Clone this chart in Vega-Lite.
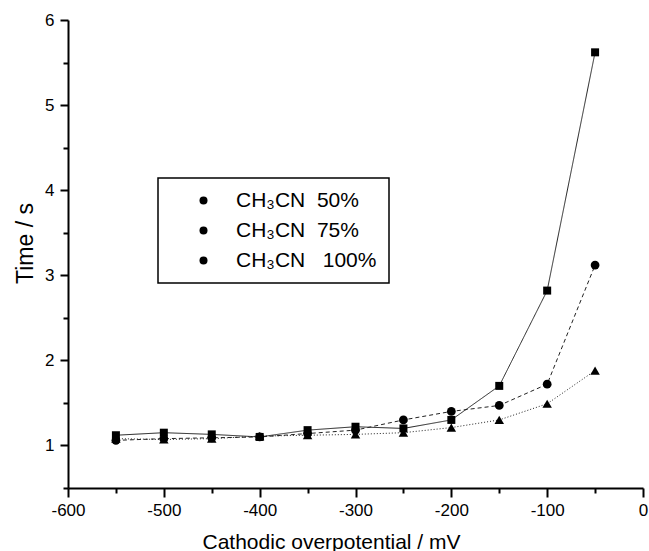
{
  "$schema": "https://vega.github.io/schema/vega-lite/v6.json",
  "width": 575,
  "height": 468,
  "autosize": {"type": "none"},
  "padding": {"left": 68, "top": 20, "right": 6, "bottom": 63},
  "background": "white",
  "config": {
    "view": {"stroke": null},
    "font": "Liberation Sans",
    "axis": {
      "domainColor": "black", "domainWidth": 2,
      "tickColor": "black", "tickWidth": 2,
      "labelColor": "black", "labelFont": "Liberation Sans", "labelFontSize": 17,
      "titleColor": "black", "titleFont": "Liberation Sans", "titleFontWeight": "normal",
      "grid": false, "labelOverlap": false, "labelFlush": false
    },
    "legend": {
      "orient": "none", "legendX": 90, "legendY": 158, "direction": "vertical",
      "strokeColor": "black", "strokeWidth": 1.5, "fillColor": "white", "padding": 12,
      "labelFont": "Liberation Sans", "labelFontSize": 21, "labelColor": "black", "labelLimit": 400,
      "symbolSize": 64, "symbolOffset": 23, "labelOffset": 22, "rowPadding": 8
    }
  },
  "data": {
    "values": [
      {"mV": -550, "t": 1.12, "series": "CH₃CN\u00a0\u00a050%"},
      {"mV": -500, "t": 1.15, "series": "CH₃CN\u00a0\u00a050%"},
      {"mV": -450, "t": 1.13, "series": "CH₃CN\u00a0\u00a050%"},
      {"mV": -400, "t": 1.10, "series": "CH₃CN\u00a0\u00a050%"},
      {"mV": -350, "t": 1.18, "series": "CH₃CN\u00a0\u00a050%"},
      {"mV": -300, "t": 1.22, "series": "CH₃CN\u00a0\u00a050%"},
      {"mV": -250, "t": 1.20, "series": "CH₃CN\u00a0\u00a050%"},
      {"mV": -200, "t": 1.30, "series": "CH₃CN\u00a0\u00a050%"},
      {"mV": -150, "t": 1.70, "series": "CH₃CN\u00a0\u00a050%"},
      {"mV": -100, "t": 2.82, "series": "CH₃CN\u00a0\u00a050%"},
      {"mV": -50, "t": 5.62, "series": "CH₃CN\u00a0\u00a050%"},
      {"mV": -550, "t": 1.06, "series": "CH₃CN\u00a0\u00a075%"},
      {"mV": -500, "t": 1.08, "series": "CH₃CN\u00a0\u00a075%"},
      {"mV": -450, "t": 1.09, "series": "CH₃CN\u00a0\u00a075%"},
      {"mV": -400, "t": 1.10, "series": "CH₃CN\u00a0\u00a075%"},
      {"mV": -350, "t": 1.14, "series": "CH₃CN\u00a0\u00a075%"},
      {"mV": -300, "t": 1.18, "series": "CH₃CN\u00a0\u00a075%"},
      {"mV": -250, "t": 1.30, "series": "CH₃CN\u00a0\u00a075%"},
      {"mV": -200, "t": 1.40, "series": "CH₃CN\u00a0\u00a075%"},
      {"mV": -150, "t": 1.47, "series": "CH₃CN\u00a0\u00a075%"},
      {"mV": -100, "t": 1.72, "series": "CH₃CN\u00a0\u00a075%"},
      {"mV": -50, "t": 3.12, "series": "CH₃CN\u00a0\u00a075%"},
      {"mV": -550, "t": 1.08, "series": "CH₃CN\u00a0\u00a0\u00a0100%"},
      {"mV": -500, "t": 1.07, "series": "CH₃CN\u00a0\u00a0\u00a0100%"},
      {"mV": -450, "t": 1.08, "series": "CH₃CN\u00a0\u00a0\u00a0100%"},
      {"mV": -400, "t": 1.11, "series": "CH₃CN\u00a0\u00a0\u00a0100%"},
      {"mV": -350, "t": 1.12, "series": "CH₃CN\u00a0\u00a0\u00a0100%"},
      {"mV": -300, "t": 1.13, "series": "CH₃CN\u00a0\u00a0\u00a0100%"},
      {"mV": -250, "t": 1.15, "series": "CH₃CN\u00a0\u00a0\u00a0100%"},
      {"mV": -200, "t": 1.21, "series": "CH₃CN\u00a0\u00a0\u00a0100%"},
      {"mV": -150, "t": 1.30, "series": "CH₃CN\u00a0\u00a0\u00a0100%"},
      {"mV": -100, "t": 1.49, "series": "CH₃CN\u00a0\u00a0\u00a0100%"},
      {"mV": -50, "t": 1.88, "series": "CH₃CN\u00a0\u00a0\u00a0100%"}
    ]
  },
  "encoding": {
    "x": {
      "field": "mV", "type": "quantitative",
      "scale": {"domain": [-600, 0], "nice": false, "zero": false},
      "axis": {
        "title": "Cathodic overpotential / mV",
        "values": [-600, -550, -500, -450, -400, -350, -300, -250, -200, -150, -100, -50, 0],
        "labelExpr": "datum.value % 100 === 0 ? '' + datum.value : ''",
        "tickSize": {"condition": {"test": "datum.value % 100 === 0", "value": 9}, "value": 5},
        "labelPadding": 5,
        "titleFontSize": 21,
        "titleX": 263, "titleY": 60, "titleBaseline": "alphabetic", "titleAlign": "center"
      }
    },
    "y": {
      "field": "t", "type": "quantitative",
      "scale": {"domain": [0.5, 6], "nice": false, "zero": false},
      "axis": {
        "title": "Time / s",
        "values": [0.5, 1, 1.5, 2, 2.5, 3, 3.5, 4, 4.5, 5, 5.5, 6],
        "labelExpr": "datum.value % 1 === 0 ? '' + datum.value : ''",
        "tickSize": {"condition": {"test": "datum.value % 1 === 0", "value": 8}, "value": 5},
        "labelPadding": 6,
        "titleFontSize": 23,
        "titleX": -36, "titleY": 223, "titleBaseline": "alphabetic", "titleAlign": "center", "titleAngle": -90
      }
    }
  },
  "layer": [
    {
      "mark": {"type": "line", "stroke": "#222", "strokeWidth": 1},
      "encoding": {
        "strokeDash": {
          "field": "series", "type": "nominal",
          "scale": {"domain": ["CH₃CN\u00a0\u00a050%", "CH₃CN\u00a0\u00a075%", "CH₃CN\u00a0\u00a0\u00a0100%"], "range": [[1, 0], [4, 3], [1, 2]]},
          "legend": null
        }
      }
    },
    {
      "mark": {"type": "point", "filled": true, "opacity": 1},
      "encoding": {
        "shape": {
          "field": "series", "type": "nominal",
          "scale": {"domain": ["CH₃CN\u00a0\u00a050%", "CH₃CN\u00a0\u00a075%", "CH₃CN\u00a0\u00a0\u00a0100%"], "range": ["square", "circle", "triangle-up"]},
          "legend": null
        },
        "size": {
          "field": "series", "type": "nominal",
          "scale": {"domain": ["CH₃CN\u00a0\u00a050%", "CH₃CN\u00a0\u00a075%", "CH₃CN\u00a0\u00a0\u00a0100%"], "range": [64, 90, 120]},
          "legend": null
        },
        "color": {
          "field": "series", "type": "nominal", "sort": null,
          "scale": {"range": ["black", "black", "black"]},
          "legend": {
            "title": null,
            "encode": {
              "symbols": {
                "shape": {"value": {"expr": "datum.index === 0 ? 'M-6.6,0L6.6,0M-1,-1L1,-1L1,1L-1,1Z' : datum.index === 1 ? 'M-6.6,0L6.6,0M-1.15,0A1.15,1.15 0 1,0 1.15,0A1.15,1.15 0 1,0 -1.15,0Z' : 'M-6.6,0L6.6,0M0,-1.25L1.35,1.05L-1.35,1.05Z'"}},
                "size": {"value": 64},
                "stroke": {"value": "#222"},
                "strokeOpacity": {"value": 1},
                "strokeWidth": {"value": 1},
                "strokeDash": {"value": {"expr": "datum.index === 1 ? [4, 3] : datum.index === 2 ? [1, 2] : [1, 0]"}}
              }
            }
          }
        }
      }
    }
  ]
}
